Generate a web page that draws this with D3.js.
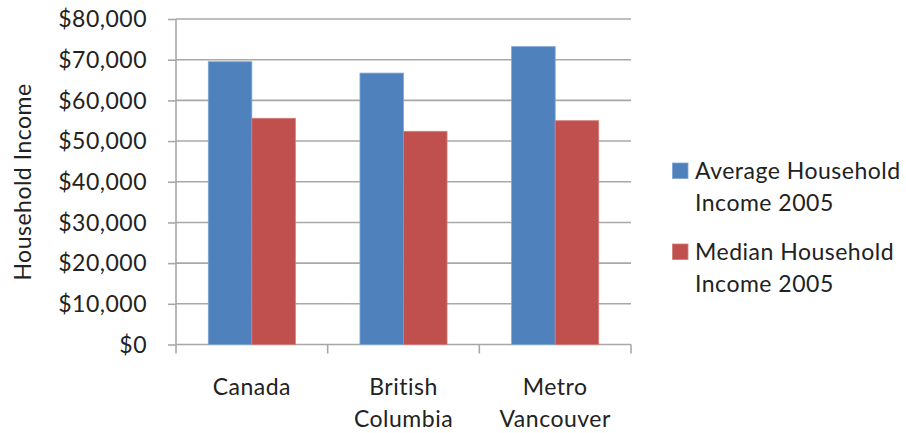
<!DOCTYPE html>
<html><head><meta charset="utf-8">
<script src="https://cdn.jsdelivr.net/npm/d3@7"></script>
<style>body{margin:0;background:#fff;} text{font-family:Lato, "Open Sans", sans-serif; fill:#222; letter-spacing:0.5px;}</style>
</head><body>
<svg id="chart" width="906" height="433"></svg>
<script>
const categories = [["Canada"], ["British", "Columbia"], ["Metro", "Vancouver"]];
const categoryKeys = ["Canada", "British Columbia", "Metro Vancouver"];
const seriesNames = [["Average Household", "Income 2005"], ["Median Household", "Income 2005"]];
const averageIncome = [69500, 66700, 73200];
const medianIncome = [55600, 52400, 55000];
const yTicks = [0, 10000, 20000, 30000, 40000, 50000, 60000, 70000, 80000];
const colors = ["#4F81BD", "#C0504D"];
const strokes = ["#7ea3d3", "#d27d7a"];

const svg = d3.select("#chart");
const L = 176, R = 631, T = 19, B = 344.5;
const fs = 23;

const y = d3.scaleLinear().domain([0, 80000]).range([B, T]);
const x0 = d3.scaleBand().domain(categoryKeys).range([L, R]).padding(0);
const bw = x0.bandwidth();
const x1 = d3.scaleBand().domain([0, 1]).range([bw * 0.213, bw * 0.787]).padding(0);

// gridlines
svg.append("g").selectAll("line").data(yTicks).join("line")
  .attr("x1", L).attr("x2", R)
  .attr("y1", d => y(d)).attr("y2", d => y(d))
  .attr("stroke", "#a8a8a8").attr("stroke-width", 1.6);

// y axis
const yAxis = d3.axisLeft(y).tickValues(yTicks).tickSize(8).tickPadding(21)
  .tickFormat(d => "$" + d3.format(",")(d));
const gy = svg.append("g").attr("transform", `translate(${L},0)`).call(yAxis);
gy.select(".domain").attr("stroke", "#a8a8a8").attr("stroke-width", 1.6).attr("d", `M0,${T}V${B}`);
gy.selectAll(".tick line").attr("stroke", "#a8a8a8").attr("stroke-width", 1.6);
gy.selectAll(".tick text").attr("font-size", fs).attr("font-family", "Lato").attr("fill", "#222").attr("dy", "0.34em");

// x axis ticks (boundaries)
const bounds = categoryKeys.map(c => x0(c)).concat([x0(categoryKeys[2]) + bw]);
svg.append("g").selectAll("line").data(bounds).join("line")
  .attr("x1", d => d).attr("x2", d => d).attr("y1", B).attr("y2", B + 9)
  .attr("stroke", "#a8a8a8").attr("stroke-width", 1.6);

// bars
const data = categoryKeys.map((c, i) => ({c, vals: [averageIncome[i], medianIncome[i]]}));
const g = svg.append("g").selectAll("g").data(data).join("g")
  .attr("transform", d => `translate(${x0(d.c)},0)`);
g.selectAll("rect").data(d => d.vals.map((v, k) => ({v, k}))).join("rect")
  .attr("x", d => x1(d.k)).attr("width", x1.bandwidth())
  .attr("y", d => y(d.v)).attr("height", d => y(0) - y(d.v))
  .attr("fill", d => colors[d.k]).attr("stroke", d => strokes[d.k]).attr("stroke-width", 0.8);

// category labels
categories.forEach((lines, i) => {
  const cx = x0(categoryKeys[i]) + bw / 2;
  lines.forEach((t, j) => {
    svg.append("text").attr("x", cx).attr("y", 395 + j * 31.5)
      .attr("text-anchor", "middle").attr("font-size", fs).text(t);
  });
});

// y axis title
svg.append("text").attr("transform", "translate(31,182) rotate(-90)")
  .attr("text-anchor", "middle").attr("font-size", fs).text("Household Income");

// legend
const legY = [163, 244];
seriesNames.forEach((lines, k) => {
  svg.append("rect").attr("x", 672.5).attr("y", legY[k]).attr("width", 15.5).attr("height", 15.5)
    .attr("fill", colors[k]).attr("stroke", strokes[k]).attr("stroke-width", 0.8);
  lines.forEach((t, j) => {
    svg.append("text").attr("x", 695).attr("y", legY[k] + 15.5 + j * 32)
      .attr("font-size", fs).text(t);
  });
});
</script>
</body></html>
